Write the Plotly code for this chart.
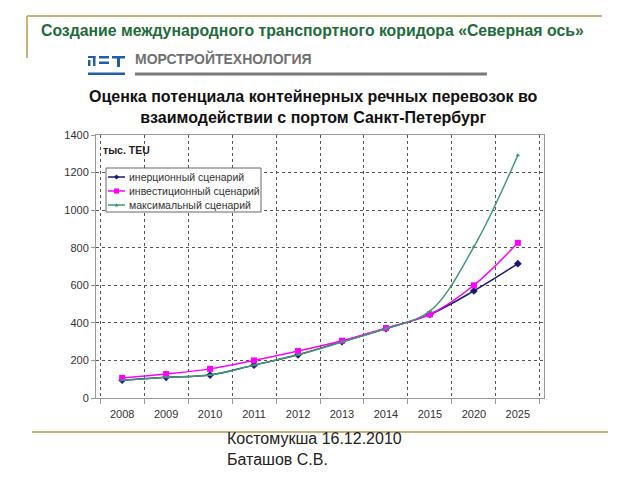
import plotly.graph_objects as go

years = ["2008", "2009", "2010", "2011", "2012", "2013", "2014", "2015", "2020", "2025"]
inertial = [95, 110, 122, 175, 230, 300, 370, 445, 570, 715]
investment = [107, 128, 155, 200, 250, 305, 372, 445, 600, 826]
maximal = [95, 110, 122, 175, 230, 298, 370, 462, 805, 1292]
series_names = ["инерционный сценарий", "инвестиционный сценарий", "максимальный сценарий"]
series_colors = ["#1a1a75", "#ff00ff", "#3f9a70"]
y_ticks = [0, 200, 400, 600, 800, 1000, 1200, 1400]

W, H = 640, 480
L, R, T, B = 96, 544, 135, 398
FONT = "Liberation Sans, Arial, sans-serif"


def px(x):
    return (x - L) / (R - L)


def py(y):
    return (B - y) / (B - T)


fig = go.Figure()
fig.add_trace(go.Scatter(x=years, y=inertial, name=series_names[0], mode="lines+markers",
                         line=dict(color=series_colors[0], width=1.5, shape="spline"),
                         marker=dict(symbol="diamond", size=6, color=series_colors[0])))
fig.add_trace(go.Scatter(x=years, y=investment, name=series_names[1], mode="lines+markers",
                         line=dict(color=series_colors[1], width=1.5, shape="spline"),
                         marker=dict(symbol="square", size=6, color=series_colors[1])))
fig.add_trace(go.Scatter(x=years, y=maximal, name=series_names[2], mode="lines+markers",
                         line=dict(color=series_colors[2], width=1.5, shape="spline"),
                         marker=dict(symbol="triangle-up", size=4, color=series_colors[2])))


def pline(x0, y0, x1, y1, color, width):
    return dict(type="line", xref="paper", yref="paper", x0=px(x0), x1=px(x1), y0=py(y0), y1=py(y1),
                line=dict(color=color, width=width))


def prect(x0, y0, x1, y1, fill, lc=None, lw=0):
    return dict(type="rect", xref="paper", yref="paper", x0=px(x0), x1=px(x1), y0=py(y1), y1=py(y0),
                line=dict(width=lw, color=lc), fillcolor=fill)


def ppath(points, fill):
    d = "M " + " L ".join(f"{px(a)},{py(b)}" for a, b in points) + " Z"
    return dict(type="path", xref="paper", yref="paper", path=d, fillcolor=fill, line=dict(width=0))


shapes = []
gold = "#c9b27a"
shapes.append(pline(27, 16, 602, 16, gold, 2))
shapes.append(pline(27, 16, 27, 58, gold, 2))
shapes.append(pline(32, 432, 608, 432, gold, 2))

# logo glyph
blue = "#1f5fa8"
rects = [(88, 60, 90.5, 66), (93, 56, 95.5, 66), (88, 56, 95.5, 58),
         (99, 56, 109, 58.5), (99, 61.5, 109, 64),
         (112, 56, 125, 58.5), (117, 56, 120, 67)]
for r in rects:
    shapes.append(prect(*r, fill=blue))
shapes.append(prect(88, 72.5, 125, 75, fill=blue))
shapes.append(prect(135, 72.5, 487, 75.5, fill="#7a7a7a"))

# manual legend
shapes.append(prect(106, 168, 261, 212, fill="white", lc="#666666", lw=1))
leg_y = [177, 191, 205]
for i, yy in enumerate(leg_y):
    shapes.append(pline(108, yy, 125, yy, series_colors[i], 1.5))
shapes.append(ppath([(116.5, leg_y[0] - 2.5), (119, leg_y[0]), (116.5, leg_y[0] + 2.5), (114, leg_y[0])],
                    series_colors[0]))
shapes.append(prect(114, leg_y[1] - 2.5, 119, leg_y[1] + 2.5, fill=series_colors[1]))
shapes.append(ppath([(116.5, leg_y[2] - 2), (118.5, leg_y[2] + 1.5), (114.5, leg_y[2] + 1.5)],
                    series_colors[2]))

annotations = [
    dict(text="<b>Создание международного транспортного коридора «Северная ось»</b>",
         xref="paper", yref="paper", x=px(39), y=py(31), xanchor="left", yanchor="middle",
         showarrow=False, font=dict(family=FONT, size=15.8, color="#216b3a")),
    dict(text="<b>МОРСТРОЙТЕХНОЛОГИЯ</b>", xref="paper", yref="paper", x=px(133), y=py(58),
         xanchor="left", yanchor="middle", showarrow=False,
         font=dict(family=FONT, size=14, color="#707070")),
    dict(text="<b>Оценка потенциала контейнерных речных перевозок во<br>взаимодействии с портом Санкт-Петербург</b>",
         xref="paper", yref="paper", x=px(313), y=py(107), xanchor="center", yanchor="middle",
         showarrow=False, align="center", font=dict(family=FONT, size=16, color="#111111")),
    dict(text="<b>тыс. TEU</b>", xref="paper", yref="paper", x=px(101), y=py(150), xanchor="left",
         yanchor="middle", showarrow=False, font=dict(family=FONT, size=10.5, color="#222222")),
    dict(text="Костомукша 16.12.2010<br>Баташов С.В.", xref="paper", yref="paper", x=px(225), y=py(449),
         xanchor="left", yanchor="middle", showarrow=False, align="left",
         font=dict(family=FONT, size=16, color="#222222")),
]
for i, yy in enumerate(leg_y):
    annotations.append(dict(text=series_names[i], xref="paper", yref="paper", x=px(127), y=py(yy),
                            xanchor="left", yanchor="middle", showarrow=False,
                            font=dict(family=FONT, size=10.5, color="#333333")))

fig.update_layout(
    width=W, height=H,
    margin=dict(l=L, r=W - R, t=T, b=H - B, pad=0),
    paper_bgcolor="white", plot_bgcolor="white",
    font=dict(family=FONT, size=11, color="#333333"),
    shapes=shapes, annotations=annotations,
    showlegend=False,
)
fig.update_xaxes(type="category", categoryorder="array", categoryarray=years,
                 tickson="boundaries", showgrid=True, gridcolor="#555555", griddash="dot", gridwidth=1,
                 showline=True, linecolor="#999999", linewidth=1, mirror=True,
                 ticks="outside", ticklen=5, tickcolor="#999999", ticklabelstandoff=6,
                 tickfont=dict(family=FONT, size=11, color="#333333"))
fig.update_yaxes(range=[0, 1400], tickvals=y_ticks, showgrid=True, gridcolor="#555555",
                 griddash="dot", gridwidth=1, zeroline=False,
                 showline=True, linecolor="#999999", linewidth=1, mirror=True,
                 ticks="outside", ticklen=4, tickcolor="#999999",
                 tickfont=dict(family=FONT, size=11, color="#333333"))

fig.write_html("out.html", config={"displayModeBar": False},
               post_script="document.body.style.margin='0';document.body.style.padding='0';")
